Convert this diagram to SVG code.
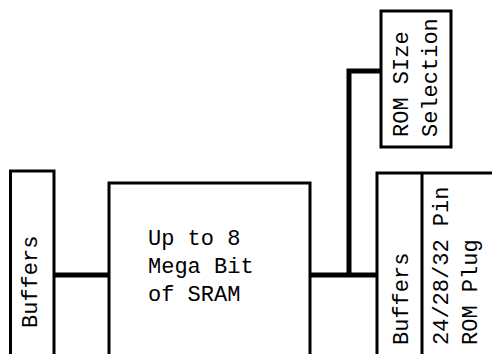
<svg xmlns="http://www.w3.org/2000/svg" width="492" height="354" viewBox="0 0 492 354">
<style>
.box{fill:#fff;stroke:#000;stroke-width:3}
.wire{fill:none;stroke:#000;stroke-width:5}
text{font-family:"Liberation Mono","Courier New",monospace;font-size:22px;fill:#000}
</style>
<rect width="492" height="354" fill="#fff"/>
<g id="connectors">
<path class="wire" d="M54,275 H109"/>
<path class="wire" d="M310,275 H377"/>
<path class="wire" d="M349,275 V71 H381"/>
</g>
<g id="buffers-left">
<path class="box" d="M10.5,360 V171 H54 V360"/>
<text transform="translate(37,328) rotate(-90)">Buffers</text>
</g>
<g id="sram">
<path class="box" d="M109,360 V183 H310 V360"/>
<text x="148" y="245">Up to 8</text>
<text x="148" y="273">Mega Bit</text>
<text x="148" y="301">of SRAM</text>
</g>
<g id="rom-size">
<rect class="box" x="381" y="11" width="70" height="136"/>
<text transform="translate(408,137) rotate(-90)">ROM SIze</text>
<text transform="translate(437,137) rotate(-90)">Selection</text>
</g>
<g id="buffers-right">
<path class="box" d="M377,360 V173 H500"/>
<text transform="translate(408,345) rotate(-90)">Buffers</text>
</g>
<g id="rom-plug">
<path class="box" d="M422,173 V360"/>
<text transform="translate(448,345) rotate(-90)">24/28/32 Pin</text>
<text transform="translate(477,345) rotate(-90)">ROM Plug</text>
</g>
</svg>
